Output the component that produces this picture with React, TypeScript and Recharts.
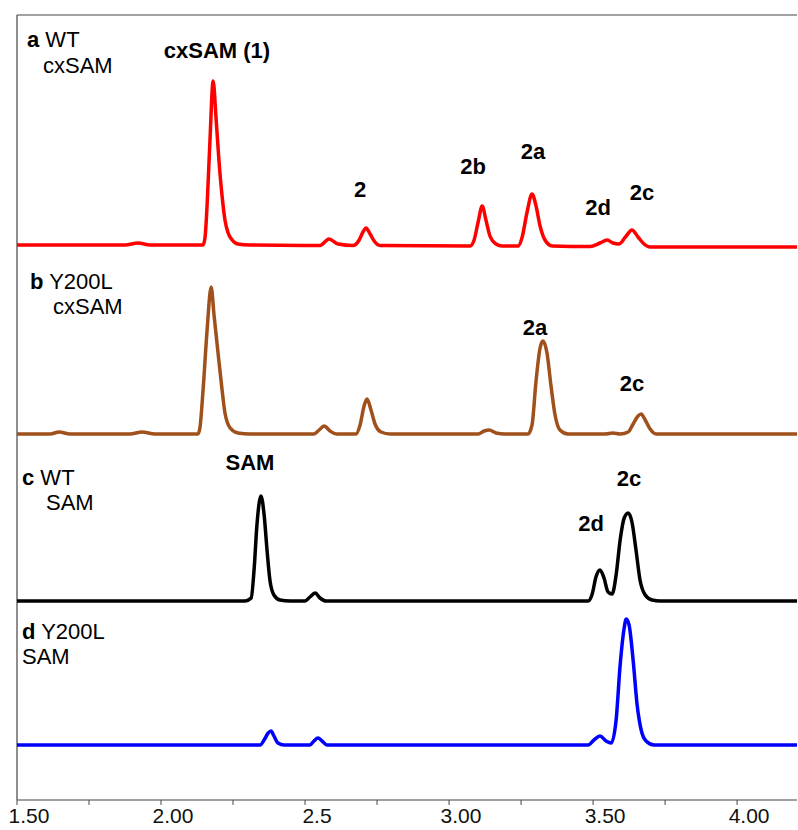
import React from 'react';
import { LineChart, Line, XAxis, YAxis, ReferenceLine } from 'recharts';

// retention time (min) vs. signal above each trace's own baseline
const traceA: [number, number][] = [
  [1.5, 0], [1.875, 0], [1.92, 2], [1.962, 0], [2.146, 0], [2.153, 8], [2.16, 40], [2.17, 105],
  [2.181, 164], [2.191, 127], [2.201, 85], [2.212, 49], [2.222, 25], [2.233, 12], [2.247, 5],
  [2.267, 1], [2.309, 0], [2.552, -0.5], [2.583, 6], [2.615, 1], [2.667, -0.5], [2.688, 5],
  [2.701, 13], [2.712, 17], [2.726, 11], [2.74, 4], [2.76, -0.5], [3.073, -1], [3.087, 5],
  [3.101, 23], [3.115, 39], [3.128, 25], [3.142, 9], [3.163, 1], [3.184, -1], [3.24, -1],
  [3.253, 7], [3.271, 33], [3.288, 51], [3.302, 39], [3.316, 19], [3.333, 5], [3.358, -1],
  [3.49, -1.5], [3.524, 2], [3.549, 5], [3.569, 2], [3.59, 1], [3.615, 9], [3.635, 15],
  [3.656, 8], [3.677, 1], [3.698, -2], [4.208, -2],
];

const traceB: [number, number][] = [
  [1.5, 0], [1.615, 0], [1.646, 2], [1.684, 0], [1.892, 0], [1.934, 2], [1.979, 0], [2.128, 0],
  [2.135, 6], [2.146, 44], [2.16, 104], [2.174, 147], [2.184, 119], [2.198, 81], [2.212, 44],
  [2.222, 21], [2.24, 6], [2.267, 1], [2.309, 0], [2.531, 0], [2.549, 4], [2.566, 8], [2.587, 3],
  [2.611, 0], [2.677, 0], [2.691, 9], [2.705, 28], [2.715, 35], [2.729, 24], [2.743, 10],
  [2.764, 2], [2.795, 0], [3.101, 0], [3.122, 3], [3.139, 4], [3.163, 1], [3.194, 0], [3.274, 0],
  [3.288, 9], [3.302, 53], [3.316, 86], [3.326, 93], [3.34, 81], [3.354, 48], [3.368, 19],
  [3.385, 4], [3.413, 0], [3.542, 0], [3.569, 1], [3.594, 0], [3.622, 2], [3.639, 10],
  [3.656, 18], [3.667, 20], [3.681, 14], [3.698, 5], [3.719, 0], [4.208, 0],
];

const traceC: [number, number][] = [
  [1.5, 0], [2.292, 0], [2.313, 3], [2.323, 31], [2.333, 76], [2.347, 105], [2.358, 86],
  [2.368, 51], [2.378, 21], [2.392, 6], [2.413, 1], [2.448, 0], [2.5, 0], [2.517, 4], [2.535, 8],
  [2.552, 3], [2.573, 0], [3.483, 0], [3.497, 7], [3.51, 24], [3.524, 31], [3.538, 23],
  [3.552, 9], [3.566, 7], [3.58, 26], [3.594, 61], [3.608, 83], [3.622, 88], [3.635, 79],
  [3.649, 51], [3.663, 21], [3.681, 6], [3.705, 1], [3.733, 0], [4.208, 0],
];

const traceD: [number, number][] = [
  [1.5, 0], [2.344, 0], [2.358, 5], [2.372, 12], [2.382, 14], [2.392, 9], [2.406, 2], [2.427, 0],
  [2.517, 0], [2.531, 4], [2.545, 7], [2.559, 4], [2.576, 0], [3.483, 0], [3.503, 5], [3.524, 9],
  [3.545, 4], [3.563, 2], [3.58, 25], [3.594, 80], [3.608, 117], [3.615, 126], [3.625, 120],
  [3.639, 85], [3.653, 40], [3.667, 15], [3.684, 4], [3.712, 0], [4.208, 0],
];

// vertical stacking of the four chromatograms
const offsets = [555, 366, 199, 55];
const colors = ['#ff0000', '#a0501a', '#000000', '#0000ff'];
const traces = [traceA, traceB, traceC, traceD];

const tickValues = [1.5, 1.75, 2, 2.25, 2.5, 2.75, 3, 3.25, 3.5, 3.75, 4];
const tickLabels: Record<string, string> = {
  '1.5': '1.50', '2': '2.00', '2.5': '2.5', '3': '3.00', '3.5': '3.50', '4': '4.00',
};

const FONT = '"Liberation Sans", Arial, sans-serif';
const FS = 22;

const series = traces.map((tr, i) => tr.map(([t, h]) => ({ t, v: h + offsets[i] })));

const AxisTick = ({ x, y, payload }: any) => {
  const label = tickLabels[String(payload.value)];
  if (!label) return null;
  return (
    <text x={x + 12} y={y} dy={16} textAnchor="middle" fontSize={21} fontFamily={FONT} fill="#111">
      {label}
    </text>
  );
};

const Label = ({ x, y, bold, children, anchor = 'start' }: any) => (
  <text x={x} y={y} fontSize={FS} fontFamily={FONT} fontWeight={bold ? 'bold' : 'normal'} textAnchor={anchor} fill="#000">
    {children}
  </text>
);

export default function App() {
  return (
    <div style={{ position: 'absolute', left: 0, top: 0, width: 798, height: 830, background: '#fff' }}>
      <LineChart width={798} height={830} margin={{ top: 15, right: 1, bottom: 0, left: 17 }}>
        <XAxis
          type="number"
          dataKey="t"
          domain={[1.5, 4.208]}
          ticks={tickValues}
          tick={<AxisTick />}
          tickSize={5}
          height={30}
          axisLine={{ stroke: '#444', strokeWidth: 1.2 }}
          tickLine={{ stroke: '#444' }}
          allowDataOverflow
          interval={0}
        />
        <YAxis type="number" domain={[0, 785]} hide />
        <ReferenceLine x={1.5} stroke="#444" strokeWidth={1.2} />
        <ReferenceLine y={785} stroke="#444" strokeWidth={1.2} />
        {series.map((d, i) => (
          <Line
            key={i}
            data={d}
            dataKey="v"
            type="monotone"
            stroke={colors[i]}
            strokeWidth={3.5}
            dot={false}
            activeDot={false}
            isAnimationActive={false}
          />
        ))}
      </LineChart>
      <svg width={798} height={830} style={{ position: 'absolute', left: 0, top: 0, pointerEvents: 'none' }}>
        <text x={27} y={47} fontSize={FS} fontFamily={FONT}>
          <tspan fontWeight="bold">a</tspan> WT
        </text>
        <Label x={43} y={73}>cxSAM</Label>
        <Label x={217} y={58} bold anchor="middle">cxSAM (1)</Label>
        <Label x={360} y={197} bold anchor="middle">2</Label>
        <Label x={473} y={174} bold anchor="middle">2b</Label>
        <Label x={533} y={159} bold anchor="middle">2a</Label>
        <Label x={598} y={215} bold anchor="middle">2d</Label>
        <Label x={642} y={200} bold anchor="middle">2c</Label>

        <text x={30} y={289} fontSize={FS} fontFamily={FONT}>
          <tspan fontWeight="bold">b</tspan> Y200L
        </text>
        <Label x={53} y={314}>cxSAM</Label>
        <Label x={535} y={335} bold anchor="middle">2a</Label>
        <Label x={632} y={391} bold anchor="middle">2c</Label>

        <text x={22} y={485} fontSize={FS} fontFamily={FONT}>
          <tspan fontWeight="bold">c</tspan> WT
        </text>
        <Label x={46} y={510}>SAM</Label>
        <Label x={250} y={470} bold anchor="middle">SAM</Label>
        <Label x={629} y={486} bold anchor="middle">2c</Label>
        <Label x={591} y={531} bold anchor="middle">2d</Label>

        <text x={22} y={639} fontSize={FS} fontFamily={FONT}>
          <tspan fontWeight="bold">d</tspan> Y200L
        </text>
        <Label x={22} y={664}>SAM</Label>
      </svg>
    </div>
  );
}
